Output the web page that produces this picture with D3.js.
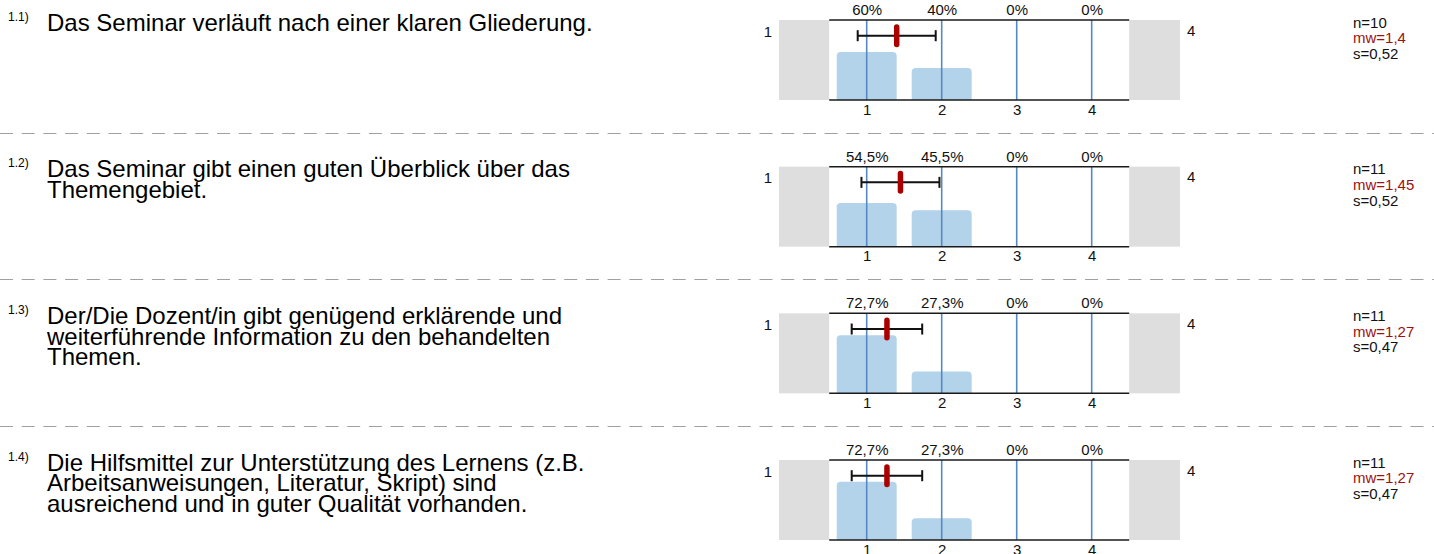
<!DOCTYPE html>
<html>
<head>
<meta charset="utf-8">
<script src="https://cdn.jsdelivr.net/npm/d3@7"></script>
<style>
  html, body { margin: 0; padding: 0; background: #fff; }
  svg { display: block; font-family: "Liberation Sans", Arial, sans-serif; }
</style>
</head>
<body>
<svg id="chart" width="1434" height="554"></svg>
<script>
// ---- data ----
const questionNumbers = ["1.1)", "1.2)", "1.3)", "1.4)"];
const questionLines = [
  ["Das Seminar verläuft nach einer klaren Gliederung."],
  ["Das Seminar gibt einen guten Überblick über das", "Themengebiet."],
  ["Der/Die Dozent/in gibt genügend erklärende und", "weiterführende Information zu den behandelten", "Themen."],
  ["Die Hilfsmittel zur Unterstützung des Lernens (z.B.", "Arbeitsanweisungen, Literatur, Skript) sind", "ausreichend und in guter Qualität vorhanden."]
];
const scaleValues = [1, 2, 3, 4];
const percents = [
  [60, 40, 0, 0],
  [54.5, 45.5, 0, 0],
  [72.7, 27.3, 0, 0],
  [72.7, 27.3, 0, 0]
];
const nValues = [10, 11, 11, 11];
const meanValues = [1.4, 1.45, 1.27, 1.27];
const sdValues = [0.52, 0.52, 0.47, 0.47];
const leftPole = "1";
const rightPole = "4";

// ---- layout ----
const svg = d3.select("#chart");
const rowStep = 146.67;
const firstTop = 20;
const boxH = 80;
const x = d3.scaleLinear().domain([1, 4]).range([866.7, 1091.7]);
const fmt = v => String(v).replace(".", ",");

// separators
for (let i = 1; i < questionNumbers.length; i++) {
  const y = Math.round(firstTop + i * rowStep - 34) + 0.5;
  svg.append("line")
    .attr("x1", 0).attr("x2", 1434).attr("y1", y).attr("y2", y)
    .attr("stroke", "#a0a0a0").attr("stroke-width", 1)
    .attr("stroke-dasharray", "13,8.7");
}

function topRoundedBar(x0, y0, w, h, r) {
  r = Math.min(r, h, w / 2);
  if (h <= 0) return "";
  return `M${x0},${y0 + h}V${y0 + r}Q${x0},${y0} ${x0 + r},${y0}H${x0 + w - r}Q${x0 + w},${y0} ${x0 + w},${y0 + r}V${y0 + h}Z`;
}

questionNumbers.forEach((num, i) => {
  const top = firstTop + i * rowStep;
  const bottom = top + boxH;
  const g = svg.append("g");
  const y = d3.scaleLinear().domain([0, 100]).range([bottom, top]);

  // question number and text
  g.append("text").attr("x", 8).attr("y", top + 0.5)
    .attr("font-size", 12).attr("fill", "#000").text(num);
  const t = g.append("text").attr("x", 47).attr("y", top + 10.5)
    .attr("font-size", 24).attr("fill", "#000");
  questionLines[i].forEach((line, k) => {
    t.append("tspan").attr("x", 47).attr("y", top + 10.5 + k * 20.8).text(line);
  });

  // gray side boxes
  const x0 = x(0.5), x1 = x(4.5);
  g.append("rect").attr("x", 779).attr("y", top).attr("width", x0 - 779).attr("height", boxH).attr("fill", "#dedede");
  g.append("rect").attr("x", x1).attr("y", top).attr("width", 1180 - x1).attr("height", boxH).attr("fill", "#dedede");

  // bars
  g.selectAll("path.bar").data(percents[i]).enter().append("path")
    .attr("class", "bar")
    .attr("d", (d, k) => topRoundedBar(x(scaleValues[k]) - 30, y(d), 60, bottom - y(d), 4))
    .attr("fill", "#b3d3ea");

  // vertical value lines
  g.selectAll("line.v").data(scaleValues).enter().append("line")
    .attr("class", "v")
    .attr("x1", d => x(d)).attr("x2", d => x(d))
    .attr("y1", top).attr("y2", bottom)
    .attr("stroke", "#5589c2").attr("stroke-width", 1.6);

  // top / bottom lines
  [top, bottom].forEach(yy => {
    g.append("line").attr("x1", x0).attr("x2", x1).attr("y1", yy).attr("y2", yy)
      .attr("stroke", "#1a1a1a").attr("stroke-width", 1.5);
  });

  // percent labels via top axis
  const axTop = d3.axisTop(x).tickValues(scaleValues).tickSize(0).tickPadding(5)
    .tickFormat((d, k) => fmt(percents[i][k]) + "%");
  const gt = g.append("g").attr("transform", `translate(0,${top})`).call(axTop);
  gt.select(".domain").remove();
  gt.selectAll("text").attr("font-size", 15).attr("fill", "#111").attr("font-family", null);

  // scale tick labels via bottom axis
  const axBot = d3.axisBottom(x).tickValues(scaleValues).tickSize(0).tickPadding(4)
    .tickFormat(d3.format("d"));
  const gb = g.append("g").attr("transform", `translate(0,${bottom})`).call(axBot);
  gb.select(".domain").remove();
  gb.selectAll("text").attr("font-size", 15).attr("fill", "#111").attr("font-family", null);

  // pole labels
  g.append("text").attr("x", 768).attr("y", top + 16.5).attr("text-anchor", "middle")
    .attr("font-size", 15).attr("fill", "#111").text(leftPole);
  g.append("text").attr("x", 1187).attr("y", top + 15.5)
    .attr("font-size", 15).attr("fill", "#111").text(rightPole);

  // error bar
  const m = meanValues[i], s = sdValues[i];
  const cy = top + 15.7;
  const ea = x(m - s), eb = x(m + s);
  g.append("line").attr("x1", ea).attr("x2", eb).attr("y1", cy).attr("y2", cy)
    .attr("stroke", "#111").attr("stroke-width", 2);
  [ea, eb].forEach(xx => {
    g.append("line").attr("x1", xx).attr("x2", xx).attr("y1", cy - 5.5).attr("y2", cy + 5.5)
      .attr("stroke", "#111").attr("stroke-width", 2);
  });
  g.append("rect").attr("x", x(m) - 2.75).attr("y", cy - 11.5).attr("width", 5.5).attr("height", 23)
    .attr("rx", 2.75).attr("fill", "#aa0000");

  // stats
  const st = g.append("text").attr("font-size", 15).attr("fill", "#111");
  st.append("tspan").attr("x", 1353).attr("y", top + 7.5).text("n=" + nValues[i]);
  st.append("tspan").attr("x", 1353).attr("y", top + 23.3).attr("fill", "#a01010").text("mw=" + fmt(m));
  st.append("tspan").attr("x", 1353).attr("y", top + 39).text("s=" + fmt(s));
});
</script>
</body>
</html>
